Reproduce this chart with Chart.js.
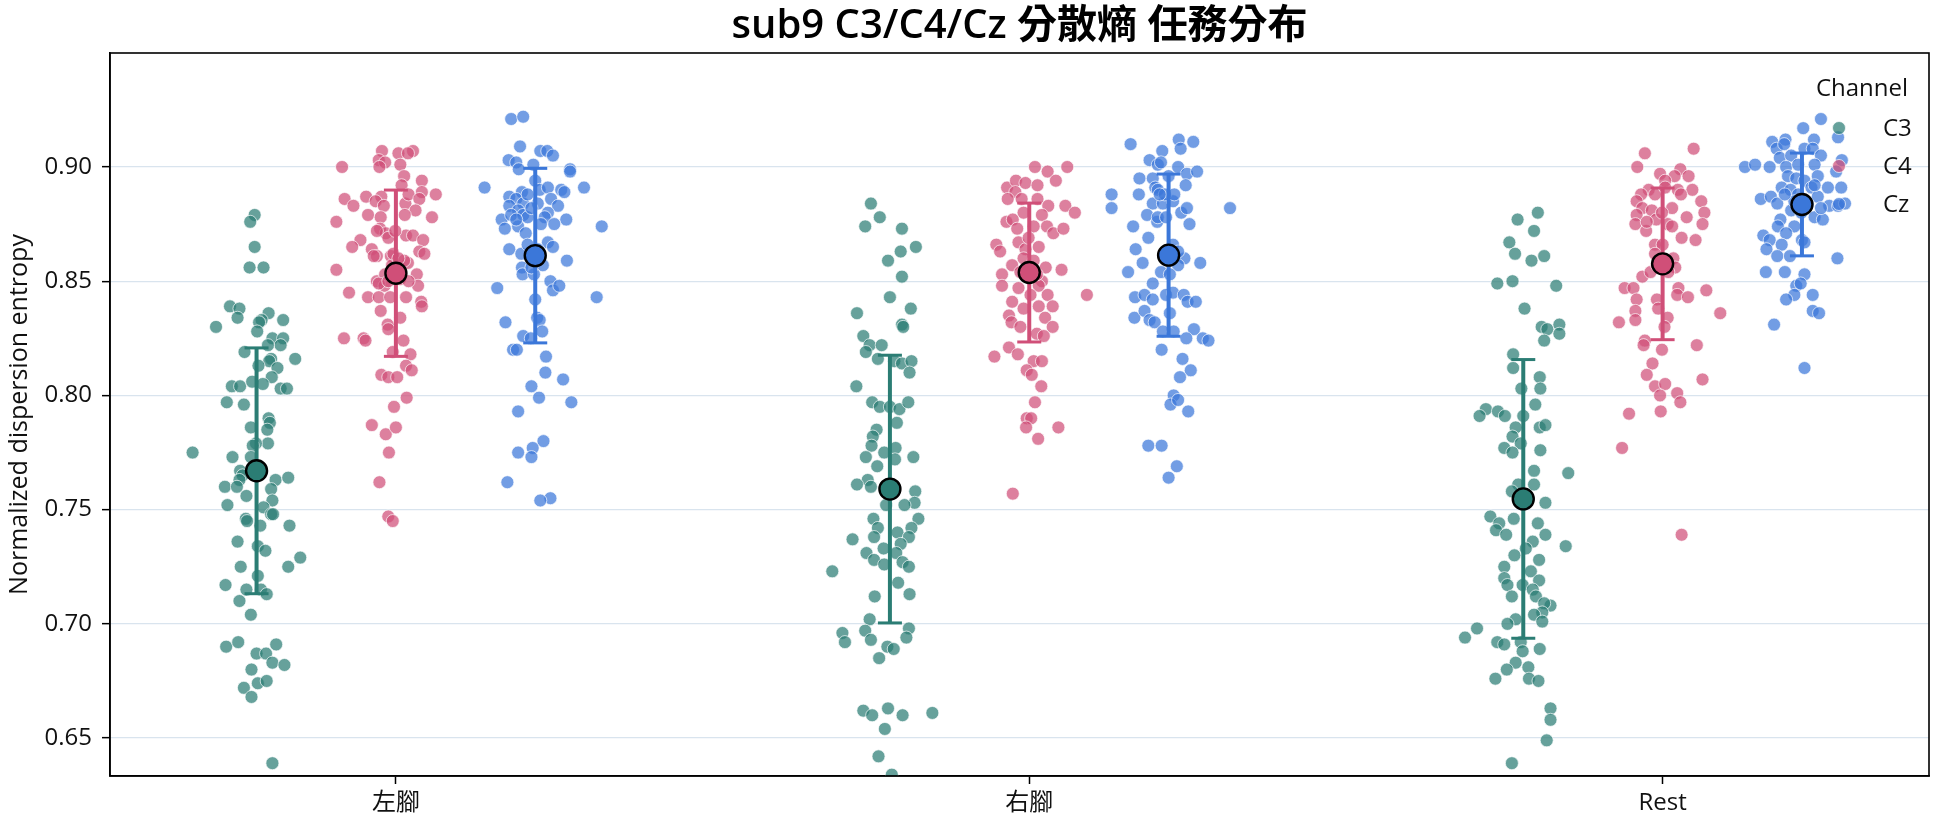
<!DOCTYPE html>
<html><head><meta charset="utf-8">
<script src="https://cdn.jsdelivr.net/npm/chart.js@4.4.1/dist/chart.umd.min.js"></script>
<style>html,body{margin:0;padding:0;background:#fff}#wrap{width:1944px;height:827px}</style>
</head><body><div id="wrap"><canvas id="c" width="1944" height="827"></canvas></div>
<script>
const title = 'sub9 C3/C4/Cz 分散熵 任務分布';
const categories = ['左腳', '右腳', 'Rest'];
const channels = ['C3', 'C4', 'Cz'];
const yTicks = [0.65, 0.70, 0.75, 0.80, 0.85, 0.90];
const yLabel = 'Normalized dispersion entropy';
const legendTitle = 'Channel';

// [jitter (category units), value]
const c3_left = [[-0.003,0.879],[-0.010,0.876],[-0.003,0.865],[-0.011,0.856],[0.011,0.856],[-0.042,0.839],[-0.027,0.838],[-0.030,0.834],[0.019,0.836],[0.008,0.833],[0.004,0.832],[0.042,0.833],[-0.064,0.830],[0.001,0.828],[0.025,0.825],[0.042,0.825],[0.038,0.822],[0.018,0.822],[-0.019,0.819],[0.023,0.816],[0.020,0.815],[0.061,0.816],[0.003,0.813],[0.033,0.812],[0.024,0.808],[-0.039,0.804],[-0.026,0.804],[-0.007,0.806],[0.010,0.805],[0.038,0.803],[0.048,0.803],[-0.047,0.797],[-0.020,0.796],[0.019,0.790],[0.021,0.788],[-0.009,0.786],[0.017,0.785],[0.018,0.779],[-0.001,0.779],[-0.006,0.778],[-0.101,0.775],[-0.038,0.773],[-0.009,0.773],[-0.026,0.767],[-0.022,0.765],[-0.027,0.763],[-0.050,0.760],[-0.031,0.760],[0.030,0.763],[0.050,0.764],[0.023,0.759],[-0.016,0.756],[0.025,0.754],[-0.046,0.752],[0.011,0.751],[0.023,0.748],[0.026,0.748],[-0.017,0.746],[-0.015,0.745],[0.006,0.743],[0.052,0.743],[-0.030,0.736],[0.002,0.734],[0.014,0.732],[0.069,0.729],[-0.025,0.725],[0.050,0.725],[0.002,0.721],[-0.049,0.717],[-0.016,0.715],[0.007,0.715],[0.016,0.713],[-0.027,0.710],[-0.009,0.704],[-0.048,0.690],[-0.029,0.692],[0,0.687],[0.015,0.687],[0.031,0.691],[0.025,0.683],[0.044,0.682],[-0.008,0.680],[0.002,0.674],[0.016,0.675],[-0.020,0.672],[-0.008,0.668],[0.025,0.639]];
const c3_right = [[-0.030,0.884],[-0.016,0.878],[-0.039,0.874],[0.019,0.873],[0.041,0.865],[0.017,0.863],[-0.003,0.859],[0.019,0.852],[0,0.843],[0.033,0.838],[-0.052,0.836],[0.019,0.831],[0.021,0.830],[-0.042,0.826],[-0.032,0.822],[-0.038,0.819],[-0.013,0.822],[-0.019,0.816],[0.007,0.815],[0.019,0.814],[0.034,0.815],[0.031,0.810],[-0.053,0.804],[-0.028,0.797],[-0.016,0.795],[0,0.795],[0.015,0.794],[0.029,0.797],[0.011,0.788],[-0.021,0.785],[-0.027,0.782],[-0.029,0.778],[-0.009,0.775],[0.009,0.777],[0.008,0.772],[-0.038,0.773],[0.037,0.773],[-0.020,0.769],[-0.035,0.763],[-0.052,0.761],[-0.030,0.760],[0.040,0.758],[0.039,0.753],[-0.006,0.752],[0.023,0.752],[0.045,0.746],[-0.026,0.746],[-0.019,0.742],[0.034,0.742],[-0.025,0.738],[-0.059,0.737],[0.012,0.740],[0.030,0.738],[0.017,0.735],[-0.010,0.733],[0.010,0.731],[-0.037,0.731],[-0.025,0.728],[-0.009,0.726],[0.020,0.727],[0.030,0.725],[-0.091,0.723],[0.013,0.718],[-0.024,0.712],[0.031,0.713],[-0.032,0.702],[-0.039,0.697],[-0.030,0.693],[-0.075,0.696],[-0.071,0.692],[0.030,0.698],[0.026,0.694],[-0.004,0.690],[0.006,0.689],[-0.017,0.685],[-0.042,0.662],[-0.028,0.660],[-0.003,0.663],[0.020,0.660],[0.067,0.661],[-0.008,0.654],[-0.018,0.642],[0.003,0.634]];
const c3_rest = [[-0.009,0.877],[0.023,0.880],[0.017,0.872],[-0.022,0.867],[-0.013,0.862],[0.013,0.859],[0.033,0.861],[-0.041,0.849],[-0.017,0.850],[0.052,0.848],[0.002,0.838],[0.029,0.830],[0.038,0.829],[0.057,0.831],[0.057,0.827],[0.033,0.824],[-0.016,0.818],[-0.016,0.812],[0.026,0.808],[0.027,0.803],[-0.003,0.803],[0.019,0.796],[-0.059,0.794],[-0.069,0.791],[-0.040,0.793],[-0.029,0.791],[0,0.791],[0.026,0.786],[0.035,0.787],[-0.012,0.786],[-0.017,0.782],[-0.004,0.779],[-0.030,0.777],[-0.017,0.775],[0.027,0.776],[0.017,0.767],[0.071,0.766],[-0.008,0.761],[0.017,0.761],[-0.018,0.758],[0.035,0.753],[-0.052,0.747],[-0.038,0.744],[-0.015,0.746],[-0.043,0.741],[-0.027,0.739],[0.023,0.744],[0.035,0.739],[0.015,0.736],[0.004,0.733],[-0.014,0.730],[0.067,0.734],[0.025,0.728],[-0.030,0.725],[-0.030,0.720],[0.012,0.723],[0.025,0.719],[-0.025,0.717],[-0.001,0.717],[0.015,0.715],[-0.018,0.712],[0.020,0.712],[0.043,0.708],[0.033,0.709],[0.030,0.705],[0.017,0.704],[-0.012,0.702],[-0.025,0.700],[0.030,0.701],[-0.073,0.698],[-0.092,0.694],[-0.041,0.692],[-0.030,0.691],[-0.004,0.692],[-0.001,0.688],[0.026,0.689],[-0.012,0.683],[-0.026,0.680],[0.008,0.681],[-0.044,0.676],[0.009,0.676],[0.024,0.675],[0.043,0.663],[0.043,0.658],[0.037,0.649],[-0.018,0.639]];

const c4_left = [[-0.022,0.907],[0.004,0.906],[0.027,0.907],[0.019,0.906],[-0.027,0.903],[-0.017,0.902],[-0.026,0.900],[0.007,0.901],[-0.085,0.900],[0.013,0.896],[0.041,0.894],[0.009,0.892],[-0.081,0.886],[-0.067,0.883],[-0.047,0.887],[-0.023,0.887],[-0.032,0.885],[-0.019,0.883],[0.015,0.884],[0.020,0.888],[0.041,0.889],[0.037,0.886],[0.031,0.881],[0.014,0.879],[0.063,0.888],[-0.044,0.879],[-0.024,0.878],[-0.094,0.876],[0.057,0.878],[-0.025,0.873],[-0.016,0.871],[-0.012,0.869],[-0.056,0.868],[-0.069,0.865],[-0.038,0.864],[-0.030,0.861],[-0.008,0.861],[0.016,0.870],[0.027,0.870],[0.043,0.868],[0.037,0.863],[0.045,0.862],[0.019,0.858],[0.013,0.859],[-0.094,0.855],[0.033,0.853],[-0.030,0.850],[-0.018,0.848],[0.007,0.851],[0.035,0.848],[-0.074,0.845],[-0.044,0.843],[-0.027,0.843],[-0.009,0.843],[0.016,0.843],[0.040,0.841],[0.041,0.839],[-0.024,0.837],[0.007,0.834],[-0.013,0.831],[-0.012,0.829],[-0.082,0.825],[-0.051,0.825],[-0.048,0.824],[0.012,0.824],[-0.005,0.819],[0.023,0.818],[0.016,0.813],[0.025,0.811],[-0.023,0.809],[-0.012,0.808],[0.002,0.808],[0.017,0.799],[-0.003,0.795],[-0.038,0.787],[-0.016,0.783],[0,0.786],[-0.011,0.775],[-0.026,0.762],[-0.012,0.747],[-0.005,0.745],[-0.006,0.857],[-0.017,0.853],[-0.027,0.849],[-0.012,0.850],[0.020,0.850],[-0.004,0.862],[0.004,0.860],[-0.035,0.861],[-0.001,0.872],[-0.030,0.872]];
const c4_right = [[0.009,0.900],[0.029,0.898],[0.060,0.900],[0.042,0.894],[-0.035,0.891],[-0.021,0.894],[-0.006,0.893],[0.013,0.892],[-0.022,0.889],[-0.034,0.886],[-0.012,0.886],[0.013,0.886],[0.030,0.883],[0.057,0.883],[0.072,0.880],[-0.009,0.880],[0.020,0.879],[-0.036,0.876],[-0.026,0.877],[0.007,0.874],[0.028,0.874],[0.038,0.871],[0.054,0.873],[-0.052,0.866],[-0.046,0.863],[-0.017,0.867],[-0.006,0.864],[0.015,0.865],[-0.009,0.860],[0.007,0.859],[0.026,0.856],[0.051,0.855],[-0.043,0.853],[-0.027,0.857],[0.020,0.850],[-0.043,0.848],[-0.017,0.847],[0.015,0.848],[0.029,0.844],[0.091,0.844],[-0.027,0.841],[-0.009,0.838],[0.015,0.839],[0.037,0.839],[-0.032,0.835],[-0.028,0.832],[-0.014,0.830],[0.025,0.834],[0.037,0.830],[0.012,0.827],[0.023,0.826],[-0.055,0.817],[-0.032,0.821],[-0.018,0.818],[0.007,0.815],[0.020,0.815],[-0.004,0.811],[0.004,0.809],[0.019,0.804],[0.009,0.797],[-0.004,0.790],[0.003,0.790],[-0.005,0.786],[0.046,0.786],[0.014,0.781],[-0.026,0.757],[-0.001,0.854],[-0.014,0.854],[0.012,0.853],[-0.001,0.869],[-0.019,0.873],[0.002,0.844]];
const c4_rest = [[-0.028,0.906],[0.049,0.908],[-0.040,0.900],[-0.004,0.897],[0.028,0.899],[0.019,0.896],[0.041,0.896],[0.004,0.894],[-0.022,0.890],[-0.034,0.888],[-0.012,0.888],[0.004,0.891],[0.024,0.890],[0.047,0.890],[0.029,0.888],[-0.041,0.885],[-0.032,0.882],[-0.017,0.881],[0.015,0.882],[0.061,0.885],[0.066,0.880],[0.038,0.878],[-0.041,0.879],[-0.010,0.877],[-0.043,0.875],[0.008,0.875],[0.063,0.875],[-0.026,0.872],[0.015,0.874],[0.030,0.869],[0.052,0.868],[-0.012,0.866],[0,0.866],[-0.012,0.862],[0.017,0.860],[-0.032,0.852],[-0.019,0.854],[0.020,0.856],[-0.060,0.847],[-0.046,0.847],[-0.041,0.842],[0.025,0.847],[0.023,0.844],[0.040,0.843],[0.069,0.846],[-0.009,0.842],[-0.007,0.838],[-0.043,0.837],[-0.043,0.833],[0.008,0.834],[-0.069,0.832],[0.091,0.836],[0.003,0.830],[-0.028,0.824],[-0.030,0.822],[-0.001,0.820],[0.054,0.822],[-0.016,0.814],[-0.025,0.809],[0.063,0.807],[-0.012,0.804],[0.004,0.805],[0.023,0.801],[-0.004,0.800],[0.028,0.797],[-0.053,0.792],[-0.003,0.793],[-0.064,0.777],[0.030,0.739],[-0.001,0.857],[0.009,0.854],[-0.009,0.857],[-0.025,0.876],[-0.001,0.880]];

const cz_left = [[-0.038,0.921],[-0.019,0.922],[-0.024,0.909],[-0.042,0.903],[-0.030,0.902],[0.008,0.907],[0.019,0.907],[0.028,0.905],[-0.003,0.901],[-0.026,0.899],[0.055,0.899],[0.055,0.898],[-0.080,0.891],[0.077,0.891],[0,0.894],[0.007,0.890],[0.020,0.891],[0.041,0.890],[0.046,0.889],[-0.021,0.889],[-0.041,0.887],[-0.030,0.886],[-0.041,0.883],[-0.019,0.884],[-0.027,0.881],[0.025,0.886],[0.036,0.883],[-0.053,0.877],[-0.048,0.873],[-0.038,0.879],[-0.019,0.879],[-0.012,0.878],[0.020,0.880],[0.015,0.878],[0.049,0.877],[0.030,0.875],[-0.027,0.874],[-0.015,0.871],[0.105,0.874],[-0.041,0.864],[-0.022,0.862],[0.020,0.867],[0.028,0.865],[0.012,0.857],[0.050,0.859],[-0.021,0.856],[-0.020,0.853],[-0.002,0.853],[-0.060,0.847],[0.024,0.850],[0.028,0.846],[0.038,0.848],[0.097,0.843],[0,0.842],[0.003,0.834],[0.007,0.833],[-0.047,0.832],[-0.019,0.826],[-0.007,0.825],[0.011,0.828],[-0.035,0.820],[-0.029,0.820],[0.017,0.817],[0.016,0.810],[0.044,0.807],[-0.006,0.804],[0.006,0.799],[0.057,0.797],[-0.027,0.793],[0.013,0.780],[-0.004,0.777],[-0.027,0.775],[-0.006,0.773],[-0.044,0.762],[0.024,0.755],[0.008,0.754],[-0.012,0.888],[0.004,0.884],[-0.006,0.882],[-0.030,0.877],[0.009,0.875],[-0.012,0.866],[0.004,0.864],[-0.001,0.859],[-0.006,0.856]];
const cz_right = [[-0.060,0.910],[0.016,0.912],[0.039,0.911],[0.019,0.908],[-0.010,0.907],[-0.030,0.903],[-0.017,0.901],[-0.012,0.902],[0.015,0.900],[0.029,0.897],[0.045,0.898],[-0.046,0.895],[-0.025,0.895],[0,0.896],[0.027,0.892],[-0.090,0.888],[-0.090,0.882],[-0.047,0.888],[-0.021,0.891],[-0.025,0.884],[-0.009,0.884],[0.007,0.885],[0.020,0.880],[0.029,0.882],[0.097,0.882],[-0.034,0.879],[-0.018,0.876],[-0.056,0.874],[0.033,0.875],[-0.032,0.869],[-0.052,0.864],[-0.041,0.858],[0.007,0.866],[0.025,0.860],[0.015,0.857],[0.050,0.858],[-0.064,0.854],[-0.012,0.854],[0.002,0.853],[-0.025,0.849],[-0.053,0.843],[-0.038,0.844],[-0.025,0.842],[-0.004,0.844],[0.007,0.845],[0.024,0.844],[0.030,0.841],[0.043,0.841],[-0.054,0.834],[-0.038,0.837],[-0.030,0.833],[-0.022,0.832],[0.002,0.836],[-0.009,0.828],[0.008,0.828],[0.040,0.829],[0.028,0.825],[0.054,0.825],[0.063,0.824],[-0.011,0.820],[0.022,0.816],[0.035,0.811],[0.018,0.808],[0.008,0.800],[0.003,0.796],[0.015,0.798],[0.031,0.793],[-0.032,0.778],[-0.011,0.778],[0.013,0.769],[0,0.764],[-0.017,0.890],[-0.006,0.888],[0.009,0.888],[-0.017,0.878],[-0.004,0.878],[0.015,0.863],[-0.006,0.860],[-0.014,0.888]];
const cz_rest = [[0.030,0.921],[0.002,0.917],[0.057,0.913],[-0.047,0.911],[-0.026,0.912],[0.019,0.912],[-0.040,0.908],[-0.028,0.910],[0.004,0.908],[0.017,0.908],[0.030,0.905],[-0.035,0.904],[-0.017,0.905],[-0.090,0.900],[-0.074,0.901],[-0.051,0.900],[-0.025,0.900],[-0.006,0.901],[0.020,0.901],[0.063,0.903],[0.054,0.898],[-0.022,0.896],[-0.009,0.895],[0.004,0.894],[0.025,0.896],[-0.032,0.891],[-0.018,0.890],[0.015,0.891],[0.041,0.891],[0.062,0.891],[-0.065,0.886],[-0.049,0.887],[-0.039,0.884],[0.025,0.887],[0.043,0.883],[0.057,0.883],[0.068,0.884],[-0.017,0.881],[0.020,0.878],[0.033,0.877],[-0.034,0.877],[-0.038,0.874],[-0.012,0.874],[-0.025,0.871],[-0.061,0.870],[-0.051,0.868],[-0.032,0.866],[-0.056,0.864],[-0.039,0.861],[-0.019,0.861],[0,0.868],[0.004,0.867],[0.056,0.860],[-0.057,0.854],[-0.027,0.854],[0.004,0.853],[-0.009,0.848],[-0.002,0.849],[-0.012,0.844],[0.017,0.844],[-0.025,0.842],[0.017,0.837],[0.027,0.836],[-0.044,0.831],[0.004,0.812],[-0.006,0.888],[0.009,0.884],[-0.012,0.885],[-0.001,0.880],[-0.027,0.888],[0.030,0.882],[0.020,0.892]];

// mean and standard deviation per category (左腳, 右腳, Rest)
const meanC3 = [0.767, 0.759, 0.7547];
const sdC3 = [0.0538, 0.0586, 0.0610];
const meanC4 = [0.8535, 0.8538, 0.8576];
const sdC4 = [0.0364, 0.0304, 0.0332];
const meanCz = [0.8612, 0.8614, 0.8836];
const sdCz = [0.0382, 0.0355, 0.0225];

const FONT = "'Open Sans', 'Noto Sans CJK TC', sans-serif";
const colors = ['#2b7d74', '#d04f78', '#3b77d9'];
const dodge = [-0.22, 0, 0.22];
const pointAlpha = 0.72;

function rgba(hex, a) {
  const n = parseInt(hex.slice(1), 16);
  return `rgba(${(n >> 16) & 255},${(n >> 8) & 255},${n & 255},${a})`;
}

const pointGroups = [[c3_left, c3_right, c3_rest], [c4_left, c4_right, c4_rest], [cz_left, cz_right, cz_rest]];
const meansAll = [meanC3, meanC4, meanCz];
const sdsAll = [sdC3, sdC4, sdCz];

const datasets = [];
channels.forEach((ch, ci) => {
  const data = [];
  pointGroups[ci].forEach((arr, k) => arr.forEach(([j, v]) => data.push({x: k + dodge[ci] + j, y: v})));
  datasets.push({
    type: 'scatter', label: ch, data,
    backgroundColor: rgba(colors[ci], pointAlpha),
    borderColor: 'rgba(255,255,255,0.85)', borderWidth: 0.8,
    pointRadius: 6.5, order: 20 - ci
  });
});
channels.forEach((ch, ci) => {
  meansAll[ci].forEach((m, k) => {
    const s = sdsAll[ci][k];
    datasets.push({
      type: 'line', label: ch + ' sd', showLine: true,
      data: [{x: k + dodge[ci], y: m - s}, {x: k + dodge[ci], y: m + s}],
      borderColor: colors[ci], borderWidth: 4,
      pointStyle: 'line', pointRadius: 12, pointBorderWidth: 3,
      pointBorderColor: colors[ci], pointBackgroundColor: colors[ci],
      order: 5
    });
  });
});
channels.forEach((ch, ci) => {
  datasets.push({
    type: 'scatter', label: ch + ' mean',
    data: meansAll[ci].map((m, k) => ({x: k + dodge[ci], y: m})),
    backgroundColor: colors[ci], borderColor: '#000', borderWidth: 2.4,
    pointRadius: 10.5, order: 1
  });
});

const decor = {
  id: 'decor',
  afterDraw(chart) {
    const {ctx, chartArea: a} = chart;
    ctx.save();
    ctx.strokeStyle = '#000'; ctx.lineWidth = 1.6;
    ctx.strokeRect(a.left, a.top, a.right - a.left, a.bottom - a.top);
    ctx.fillStyle = '#000';
    ctx.font = `600 40px ${FONT}`;
    ctx.textAlign = 'center'; ctx.textBaseline = 'middle';
    ctx.fillText(title, (a.left + a.right) / 2, 27);
    ctx.font = `24px ${FONT}`;
    ctx.fillStyle = '#111';
    ctx.textAlign = 'center';
    ctx.fillText(legendTitle, 1862, 89);
    channels.forEach((ch, i) => {
      const y = 128 + i * 38;
      ctx.beginPath();
      ctx.arc(1839, y, 6.5, 0, Math.PI * 2);
      ctx.fillStyle = rgba(colors[i], pointAlpha); ctx.fill();
      ctx.lineWidth = 0.8; ctx.strokeStyle = 'rgba(255,255,255,0.85)'; ctx.stroke();
      ctx.fillStyle = '#111'; ctx.textAlign = 'left';
      ctx.fillText(ch, 1883, y + 1);
    });
    ctx.restore();
  }
};

Chart.defaults.font.family = FONT;
Chart.defaults.font.size = 24;
Chart.defaults.color = '#111';

new Chart(document.getElementById('c'), {
  type: 'scatter',
  data: {datasets},
  options: {
    responsive: false, animation: false, devicePixelRatio: 1, events: [],
    layout: {padding: {top: 53, right: 6, left: 0, bottom: 0}},
    plugins: {legend: {display: false}, tooltip: {enabled: false}, title: {display: false}},
    scales: {
      x: {
        type: 'linear', min: -0.4514, max: 2.4206,
        afterBuildTicks: s => { s.ticks = categories.map((c, i) => ({value: i})); },
        afterFit: s => { s.height = 51; },
        ticks: {callback: v => categories[v], padding: 5, color: '#111', font: {size: 24}},
        grid: {drawOnChartArea: false, drawTicks: true, tickLength: 8, tickColor: '#000', tickWidth: 1.5},
        border: {display: true, color: '#000', width: 1.6}
      },
      y: {
        type: 'linear', min: 0.6334, max: 0.9499,
        afterBuildTicks: s => { s.ticks = yTicks.map(v => ({value: v})); },
        afterFit: s => { s.width = 110; },
        ticks: {callback: v => Number(v).toFixed(2), padding: 10, color: '#111', font: {size: 24}},
        grid: {color: '#d9e4ee', lineWidth: 1.3, drawTicks: true, tickLength: 8, tickColor: '#000', tickWidth: 1.5},
        border: {display: true, color: '#000', width: 1.6},
        title: {display: true, text: yLabel, font: {size: 25}, color: '#111', padding: {top: 5, bottom: 0}}
      }
    }
  },
  plugins: [decor]
});
</script></body></html>
